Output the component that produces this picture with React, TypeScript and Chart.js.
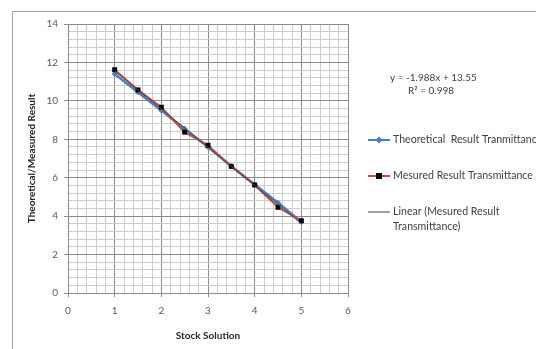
import React, { useEffect, useRef } from "react";
import { Chart, registerables } from "chart.js";

Chart.register(...registerables);

const xValues = [1, 1.5, 2, 2.5, 3, 3.5, 4, 4.5, 5];
const theoretical = [11.4, 10.45, 9.5, 8.55, 7.6, 6.6, 5.65, 4.7, 3.7];
const measured = [11.62, 10.57, 9.67, 8.37, 7.69, 6.59, 5.62, 4.46, 3.76];
const trendX = [1, 5];
const trendY = [11.56, 3.61];

const seriesNames = [
  "Theoretical  Result Tranmittance",
  "Mesured Result Transmittance",
  "Linear (Mesured Result",
  "Transmittance)",
];
const equationText = "y = -1.988x + 13.55";
const r2Text = "R² = 0.998";
const xTitle = "Stock Solution";
const yTitle = "Theoretical/Measured Result";

const FONT = "Lato, 'Open Sans', sans-serif";
const BLUE = "#4a7ebb";
const RED = "#be4b48";
const TREND = "#4d4d4d";
const MAJOR = "#8c8c8c";
const MINOR = "#cccccc";

const isMult = (v: number, m: number) => Math.abs(v / m - Math.round(v / m)) < 1e-6;

const overlay = {
  id: "overlay",
  afterDraw(chart: any) {
    const ctx = chart.ctx as CanvasRenderingContext2D;
    const xs = chart.scales.x;
    const ys = chart.scales.y;
    ctx.save();
    // outer border
    ctx.strokeStyle = "#a6a6a6";
    ctx.lineWidth = 1;
    ctx.strokeRect(12.5, 11.5, 700, 500);

    // axis titles
    ctx.fillStyle = "#262626";
    ctx.font = `bold 10px ${FONT}`;
    ctx.textAlign = "center";
    ctx.textBaseline = "middle";
    ctx.fillText(xTitle, (xs.left + xs.right) / 2, 336);
    ctx.save();
    ctx.translate(32, (ys.top + ys.bottom) / 2);
    ctx.rotate(-Math.PI / 2);
    ctx.fillText(yTitle, 0, 0);
    ctx.restore();

    // equation
    ctx.font = `10px ${FONT}`;
    ctx.fillStyle = "#404040";
    ctx.textAlign = "left";
    ctx.fillText(equationText, 390, 78);
    ctx.fillText(r2Text, 408, 91);

    // legend
    ctx.font = `10.6px ${FONT}`;
    const drawLine = (y: number, color: string, w: number) => {
      ctx.strokeStyle = color;
      ctx.lineWidth = w;
      ctx.beginPath();
      ctx.moveTo(368, y);
      ctx.lineTo(390, y);
      ctx.stroke();
    };
    // theoretical
    drawLine(140, BLUE, 2);
    ctx.fillStyle = BLUE;
    ctx.beginPath();
    ctx.moveTo(379, 136.5);
    ctx.lineTo(382.5, 140);
    ctx.lineTo(379, 143.5);
    ctx.lineTo(375.5, 140);
    ctx.closePath();
    ctx.fill();
    ctx.fillStyle = "#404040";
    ctx.fillText(seriesNames[0], 393, 140);
    // measured
    drawLine(176, RED, 2);
    ctx.fillStyle = "#000";
    ctx.fillRect(376, 173, 6, 6);
    ctx.fillStyle = "#404040";
    ctx.fillText(seriesNames[1], 393, 176);
    // trend
    drawLine(212, "#808080", 1.5);
    ctx.fillStyle = "#404040";
    ctx.fillText(seriesNames[2], 393, 212);
    ctx.fillText(seriesNames[3], 393, 227);
    ctx.restore();
  },
};

export default function App() {
  const ref = useRef<HTMLCanvasElement>(null);
  useEffect(() => {
    if (!ref.current) return;
    const chart = new Chart(ref.current, {
      type: "scatter",
      data: {
        datasets: [
          {
            label: seriesNames[2],
            data: trendX.map((x, i) => ({ x, y: trendY[i] })),
            showLine: true,
            borderColor: TREND,
            borderWidth: 1,
            pointRadius: 0,
            order: 0,
          },
          {
            label: seriesNames[1],
            data: xValues.map((x, i) => ({ x, y: measured[i] })),
            showLine: true,
            borderColor: RED,
            borderWidth: 2,
            pointStyle: "rect",
            pointRadius: 3.5,
            pointBackgroundColor: "#000",
            pointBorderColor: "#000",
            pointBorderWidth: 0,
            order: 1,
          },
          {
            label: seriesNames[0],
            data: xValues.map((x, i) => ({ x, y: theoretical[i] })),
            showLine: true,
            borderColor: BLUE,
            borderWidth: 2.5,
            pointStyle: "rectRot",
            pointRadius: 3,
            pointBackgroundColor: BLUE,
            pointBorderColor: BLUE,
            pointBorderWidth: 0,
            order: 2,
          },
        ],
      },
      plugins: [overlay],
      options: {
        responsive: false,
        animation: false,
        devicePixelRatio: 1,
        layout: { padding: { left: 0, top: 24, right: 188, bottom: 0 } },
        plugins: { legend: { display: false }, tooltip: { enabled: false } },
        scales: {
          x: {
            type: "linear",
            min: 0,
            max: 6,
            afterFit: (s: any) => {
              s.height = 56;
            },
            ticks: {
              stepSize: 0.2,
              autoSkip: false,
              maxRotation: 0,
              padding: 8,
              color: "#595959",
              font: { family: FONT, size: 10 },
              callback: (v: any) => (isMult(Number(v), 1) ? String(Math.round(Number(v))) : ""),
            },
            grid: {
              color: (c: any) => (isMult(c.tick.value, 1) ? MAJOR : MINOR),
              tickColor: (c: any) => (isMult(c.tick.value, 1) ? MAJOR : "rgba(0,0,0,0)"),
              tickLength: 4,
              lineWidth: 1,
            },
            border: { display: true, color: MAJOR },
          },
          y: {
            type: "linear",
            min: 0,
            max: 14,
            afterFit: (s: any) => {
              s.width = 68;
            },
            ticks: {
              stepSize: 0.4,
              autoSkip: false,
              padding: 6,
              color: "#595959",
              font: { family: FONT, size: 10 },
              callback: (v: any) => (isMult(Number(v), 2) ? String(Math.round(Number(v))) : ""),
            },
            grid: {
              color: (c: any) => (isMult(c.tick.value, 2) ? MAJOR : MINOR),
              tickColor: (c: any) => (isMult(c.tick.value, 2) ? MAJOR : "rgba(0,0,0,0)"),
              tickLength: 4,
              lineWidth: 1,
            },
            border: { display: true, color: MAJOR },
          },
        },
      },
    });
    return () => chart.destroy();
  }, []);
  return (
    <div style={{ position: "absolute", left: 0, top: 0, width: 536, height: 349, background: "#fff" }}>
      <canvas ref={ref} width={536} height={349} style={{ display: "block" }} />
    </div>
  );
}
